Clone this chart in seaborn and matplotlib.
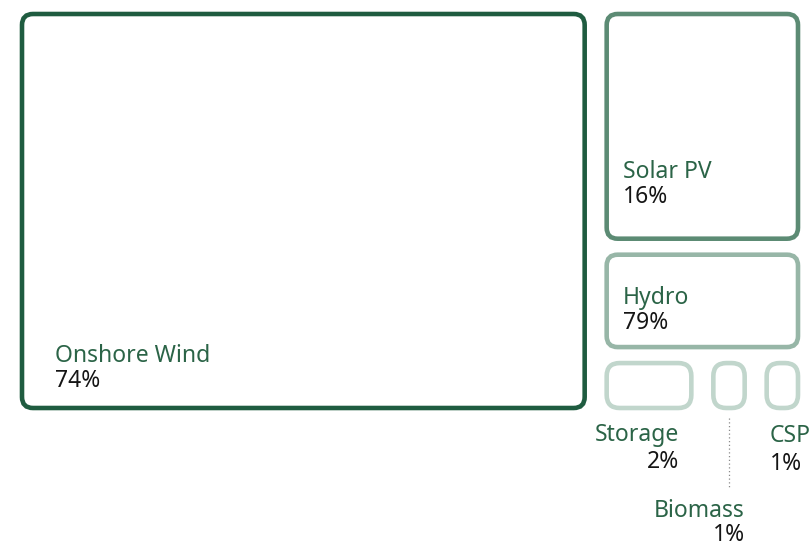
import matplotlib
matplotlib.use("Agg")
import matplotlib.pyplot as plt
from matplotlib.patches import FancyBboxPatch
import seaborn as sns

# ---- data ----
categories = ["Onshore Wind", "Solar PV", "Hydro", "Storage", "Biomass", "CSP"]
shares = [74, 16, 7, 2, 1, 1]
pct_labels = ["74%", "16%", "79%", "2%", "1%", "1%"]

# ---- style ----
sns.set_theme(style="white")
plt.rcParams["font.family"] = ["Noto Sans", "DejaVu Sans"]
edge_colors = ["#1f5c40", "#5c8b74", "#97b6a7", "#c1d6cc", "#c1d6cc", "#c1d6cc"]
name_color = "#2b6447"
pct_color = "#151515"
W, H = 810, 547

fig = plt.figure(figsize=(W / 100, H / 100), dpi=100)
ax = fig.add_axes([0, 0, 1, 1])
ax.set_xlim(0, W)
ax.set_ylim(H, 0)
ax.axis("off")


def layout(vals, x0, y0, x1, y1):
    """First item takes a column; the rest stack as rows (last row split across)."""
    total = sum(vals)
    xm = x0 + (x1 - x0) * vals[0] / total
    cells = [(x0, y0, xm, y1)]
    rest = vals[1:]
    groups = [[0], [1], list(range(2, len(rest)))]
    rsum = sum(rest)
    y = y0
    for g in groups:
        gsum = sum(rest[i] for i in g)
        h = (y1 - y0) * gsum / rsum
        x = xm
        for i in g:
            w = (x1 - xm) * rest[i] / gsum
            cells.append((x, y, x + w, y + h))
            x += w
        y += h
    return cells


Y0, Y1 = 3, 421
cells = layout(shares, 11, Y0, 809, Y1)
inset_x = 11
boxes = []
for (a, b, c, d), col in zip(cells, edge_colors):
    bx0, bx1 = a + inset_x, c - inset_x
    by0 = b + (11 if b <= Y0 else 4)
    by1 = d - (13 if d >= Y1 else 12)
    boxes.append((bx0, by0, bx1, by1))
    r = 11 if (by1 - by0) > 60 else 13
    p = FancyBboxPatch((bx0, by0), bx1 - bx0, by1 - by0,
                       boxstyle=f"round,pad=0,rounding_size={r}",
                       facecolor="white", edgecolor=col, linewidth=3.3)
    ax.add_patch(p)

fs = 16.5
# labels inside the big boxes (x offset from left, pct baseline offset from bottom)
inside = {0: (33, 21), 1: (16, 36), 2: (16, 18)}
for i, (dx, dy) in inside.items():
    bx0, by0, bx1, by1 = boxes[i]
    ax.text(bx0 + dx, by1 - dy - 25, categories[i], color=name_color,
            fontsize=fs, ha="left", va="baseline")
    ax.text(bx0 + dx, by1 - dy, pct_labels[i], color=pct_color,
            fontsize=fs, ha="left", va="baseline")

# labels below the small boxes
# Storage: right aligned, a bit left of the box's right edge
bx0, by0, bx1, by1 = boxes[3]
ax.text(bx1 - 12, by1 + 33, categories[3], color=name_color, fontsize=fs,
        ha="right", va="baseline")
ax.text(bx1 - 12, by1 + 60, pct_labels[3], color=pct_color, fontsize=fs,
        ha="right", va="baseline")

# Biomass: with a dotted leader line
bx0, by0, bx1, by1 = boxes[4]
cx = (bx0 + bx1) / 2
ax.plot([cx, cx], [by1 + 10, by1 + 81], color="#8a8a8a", lw=0.9,
        linestyle=(0, (1, 2)))
ax.text(bx1, by1 + 109, categories[4], color=name_color, fontsize=fs,
        ha="right", va="baseline")
ax.text(bx1, by1 + 133, pct_labels[4], color=pct_color, fontsize=fs,
        ha="right", va="baseline")

# CSP: left aligned
bx0, by0, bx1, by1 = boxes[5]
ax.text(bx0 + 3, by1 + 34, categories[5], color=name_color, fontsize=fs,
        ha="left", va="baseline")
ax.text(bx0 + 3, by1 + 62, pct_labels[5], color=pct_color, fontsize=fs,
        ha="left", va="baseline")

fig.savefig("out.png", dpi=100, facecolor="white")
